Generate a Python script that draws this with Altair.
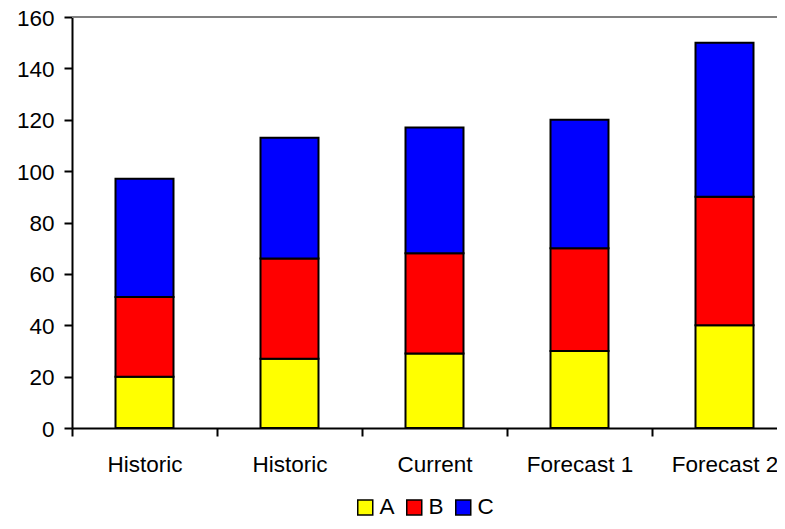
import json
import altair as alt
import pandas as pd

categories = ["Historic", "Historic", "Current", "Forecast 1", "Forecast 2"]
series_names = ["A", "B", "C"]
values_A = [20, 27, 29, 30, 40]
values_B = [31, 39, 39, 40, 50]
values_C = [46, 47, 49, 50, 60]
colors = ["#FFFF00", "#FF0000", "#0000FF"]
y_ticks = [0, 20, 40, 60, 80, 100, 120, 140, 160]

rows = []
for name, vals in zip(series_names, [values_A, values_B, values_C]):
    for i, v in enumerate(vals):
        rows.append({"idx": i, "series": name, "value": v, "order": series_names.index(name)})
df = pd.DataFrame(rows)

label_expr = json.dumps(categories) + "[datum.value]"
FONT = "Liberation Sans"
FS = 22.5

bars = alt.Chart(df).mark_bar(stroke="black", strokeWidth=2).encode(
    x=alt.X("idx:O", title=None,
            scale=alt.Scale(paddingInner=0.6, paddingOuter=0.3, range=[0, 725]),
            axis=alt.Axis(labelExpr=label_expr, labelAngle=0, tickOffset=-72.5, labelOffset=72.5,
                          tickSize=8, tickColor="black", tickWidth=2, domainColor="black",
                          domainWidth=2, labelPadding=17, labelFontSize=FS, labelFont=FONT,
                          labelColor="black", grid=False)),
    y=alt.Y("value:Q", title=None, stack="zero",
            scale=alt.Scale(domain=[0, 160], nice=False),
            axis=alt.Axis(values=y_ticks, tickSize=8, tickColor="black", tickWidth=2,
                          domainColor="black", domainWidth=2, labelPadding=10, labelFontSize=FS,
                          labelOffset=1,
                          labelFont=FONT, labelColor="black", grid=False)),
    color=alt.Color("series:N", scale=alt.Scale(domain=series_names, range=colors),
                    legend=alt.Legend(title=None, orient="none", direction="horizontal",
                                      legendX=282, legendY=479, symbolType="square", symbolSize=225,
                                      symbolStrokeColor="black", symbolStrokeWidth=1.5,
                                      symbolOpacity=1, labelFontSize=FS, labelFont=FONT,
                                      labelColor="black", labelOffset=3, columnPadding=8)),
    order=alt.Order("order:Q", sort="ascending"),
)

top_line = alt.Chart(pd.DataFrame({"v": [y_ticks[-1]]})).mark_rule(color="#808080", strokeWidth=2).encode(
    y=alt.Y("v:Q")
)

chart = alt.layer(top_line, bars).properties(
    width=705, height=411,
    autosize=alt.AutoSizeParams(type="none"),
    padding={"left": 64, "top": 9, "right": 0, "bottom": 92},
).configure_view(stroke=None).configure(background="white")

chart.save("out.html", embed_options={"renderer": "svg", "actions": False})
